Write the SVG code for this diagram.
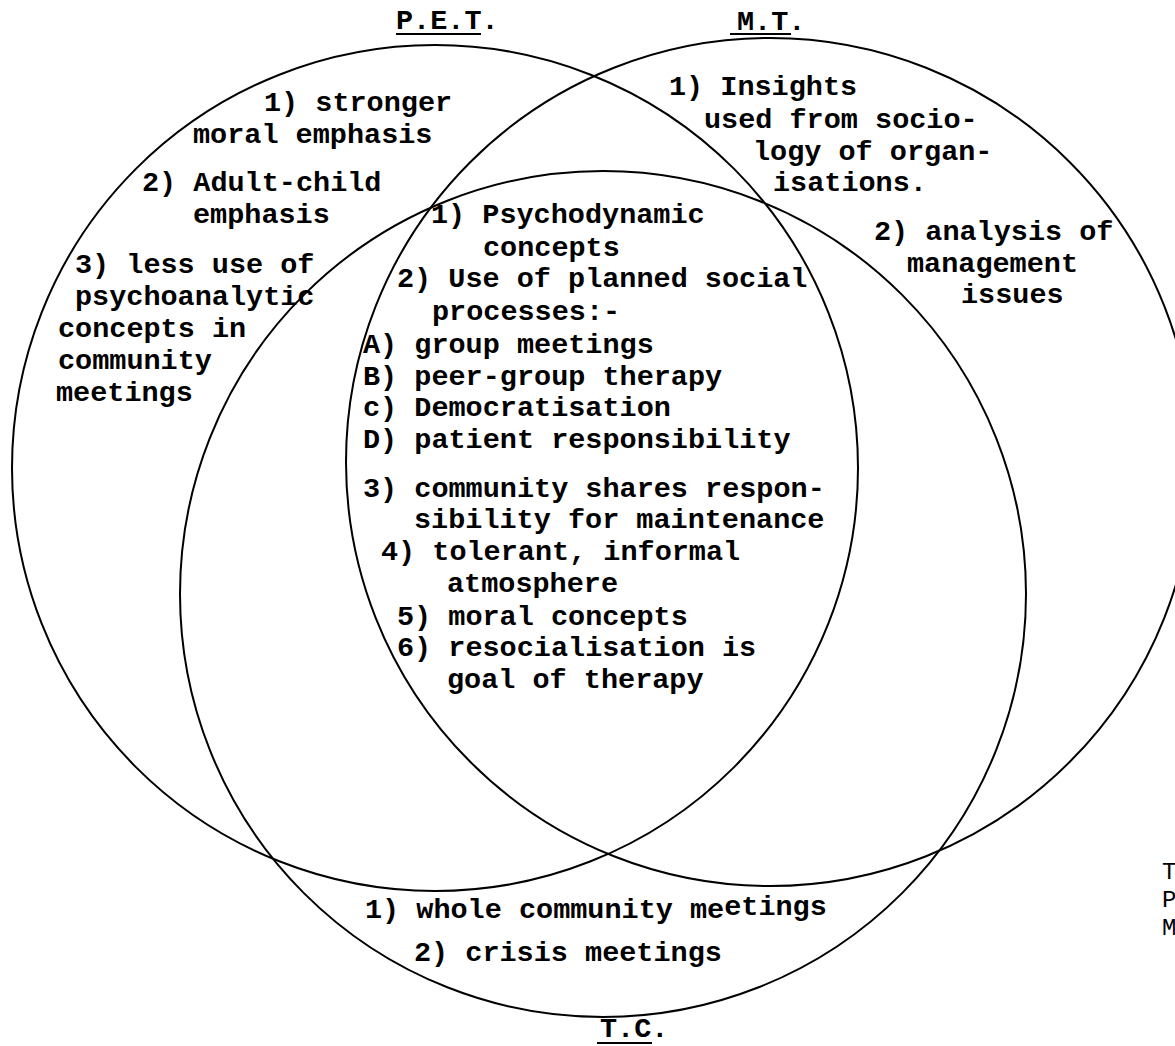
<svg xmlns="http://www.w3.org/2000/svg" width="1175" height="1046" viewBox="0 0 1175 1046">
<style>
.c{fill:none;stroke:#000;stroke-width:2}
.t{font-family:"Liberation Mono","DejaVu Sans Mono",monospace;font-size:28.5px;font-weight:bold;fill:#000}
.s{font-family:"Liberation Mono","DejaVu Sans Mono",monospace;font-size:24px;fill:#000}
.u{stroke:#000;stroke-width:2}
</style>
<rect width="1175" height="1046" fill="#fff"/>
<g id="connectors">
<circle id="circle-pet" class="c" cx="435" cy="468" r="423"/>
<circle id="circle-mt" class="c" cx="770" cy="462" r="424"/>
<circle id="circle-tc" class="c" cx="603" cy="594" r="423"/>
</g>
<g id="title-pet"><text class="t" x="396" y="29">P.E.T.</text><line class="u" x1="396" y1="34" x2="481" y2="34"/></g>
<g id="title-mt"><text class="t" x="737" y="30">M.T.</text><line class="u" x1="730" y1="34" x2="791" y2="34"/></g>
<g id="title-tc"><text class="t" x="600" y="1037">T.C.</text><line class="u" x1="597" y1="1043" x2="652" y2="1043"/></g>
<g id="pet-only">
<text class="t" x="264" y="111">1) stronger</text>
<text class="t" x="193" y="143">moral emphasis</text>
<text class="t" x="142" y="191">2) Adult-child</text>
<text class="t" x="193" y="223">emphasis</text>
<text class="t" x="75" y="273">3) less use of</text>
<text class="t" x="75" y="305">psychoanalytic</text>
<text class="t" x="58" y="337">concepts in</text>
<text class="t" x="58" y="369">community</text>
<text class="t" x="56" y="401">meetings</text>
</g>
<g id="mt-only">
<text class="t" x="669" y="95">1) Insights</text>
<text class="t" x="704" y="128">used from socio-</text>
<text class="t" x="753" y="160">logy of organ-</text>
<text class="t" x="773" y="191">isations.</text>
<text class="t" x="874" y="240">2) analysis of</text>
<text class="t" x="907" y="272">management</text>
<text class="t" x="961" y="303">issues</text>
</g>
<g id="common">
<text class="t" x="431" y="223">1) Psychodynamic</text>
<text class="t" x="483" y="256">concepts</text>
<text class="t" x="397" y="287">2) Use of planned social</text>
<text class="t" x="432" y="320">processes:-</text>
<text class="t" x="363" y="353">A) group meetings</text>
<text class="t" x="363" y="385">B) peer-group therapy</text>
<text class="t" x="363" y="416">c) Democratisation</text>
<text class="t" x="363" y="448">D) patient responsibility</text>
<text class="t" x="363" y="497">3) community shares respon-</text>
<text class="t" x="414" y="528">sibility for maintenance</text>
<text class="t" x="381" y="560">4) tolerant, informal</text>
<text class="t" x="447" y="592">atmosphere</text>
<text class="t" x="397" y="625">5) moral concepts</text>
<text class="t" x="397" y="656">6) resocialisation is</text>
<text class="t" x="447" y="688">goal of therapy</text>
</g>
<g id="tc-only">
<text class="t" x="365" y="918">1) whole community me<tspan dy="-3">etings</tspan></text>
<text class="t" x="414" y="961">2) crisis meetings</text>
</g>
<g id="margin-text">
<text class="s" x="1162" y="879">T</text>
<text class="s" x="1162" y="907">P</text>
<text class="s" x="1162" y="935">M</text>
</g>
</svg>
